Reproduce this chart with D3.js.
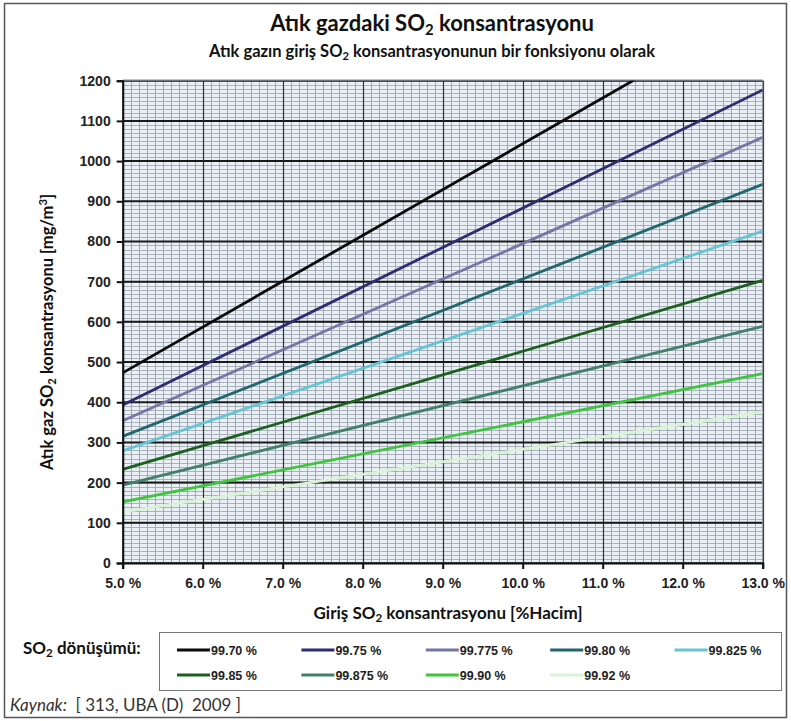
<!DOCTYPE html>
<html>
<head>
<meta charset="utf-8">
<script src="https://cdn.jsdelivr.net/npm/d3@7"></script>
<style>
  body { margin: 0; background: #fff; }
  svg { display: block; }
  .tick text { font-family: "Liberation Sans", Arial, sans-serif; font-weight: bold; font-size: 14px; fill: #222; }
</style>
</head>
<body>
<svg id="chart" width="791" height="721"></svg>
<script>
// x values (inlet SO2, % by volume) at which the lines were read
const xPoints = [5.0, 13.0];
const xTicks = [5, 6, 7, 8, 9, 10, 11, 12, 13];
const yTicks = [0, 100, 200, 300, 400, 500, 600, 700, 800, 900, 1000, 1100, 1200];

const seriesNames = ['99.70 %', '99.75 %', '99.775 %', '99.80 %', '99.825 %',
                     '99.85 %', '99.875 %', '99.90 %', '99.92 %'];
// outlet SO2 in mg/m3 at x = 5.0 and x = 13.0 (black one runs past 1200)
const seriesValues = [
    [473, 1385],
    [393, 1177],
    [354, 1059],
    [315, 942],
    [279, 826],
    [233, 703],
    [194, 589],
    [152, 471],
    [127, 376]
];
const seriesColors = ['#0a0a0a', '#2d2d72', '#7676a6', '#22666f', '#66c4d4',
                      '#1d5f1f', '#42806c', '#3fc43f', '#d8f3d2'];

const svg = d3.select('#chart');
const W = 791, H = 721;
const pL = 122.7, pR = 762.7, pT = 80.7, pB = 563;

const x = d3.scaleLinear().domain([5, 13]).range([pL, pR]);
const y = d3.scaleLinear().domain([0, 1200]).range([pB, pT]);

// outer frame
svg.append('rect')
    .attr('x', 4.5).attr('y', 3.5)
    .attr('width', W - 9).attr('height', H - 7)
    .attr('fill', 'none').attr('stroke', '#555').attr('stroke-width', 1.5);

// text with SO2 / m3 style pieces
const richText = (sel, parts, size) => {
    parts.forEach(p => {
        const t = sel.append('tspan').text(p.t);
        if (p.sub) t.attr('font-size', size * 0.68).attr('dy', size * 0.2);
        if (p.sup) t.attr('font-size', size * 0.68).attr('dy', -size * 0.38);
        if (p.back) t.attr('dy', p.back);
        if (p.italic) t.attr('font-style', 'italic');
    });
};

const addLabel = (px, py, size, anchor, parts, weight) => {
    const t = svg.append('text')
        .attr('x', px).attr('y', py)
        .attr('text-anchor', anchor)
        .attr('font-family', 'Lato, sans-serif')
        .attr('font-weight', weight || 'bold')
        .attr('font-size', size)
        .attr('fill', '#111');
    richText(t, parts, size);
    return t;
};

// titles
addLabel(432, 31, 22, 'middle',
    [{t: 'Atık gazdaki SO'}, {t: '2', sub: true}, {t: ' konsantrasyonu', back: -22 * 0.2}]);
addLabel(432, 57, 16.5, 'middle',
    [{t: 'Atık gazın giriş SO'}, {t: '2', sub: true},
     {t: ' konsantrasyonunun bir fonksiyonu olarak', back: -16.5 * 0.2}]);

// plot background
svg.append('rect')
    .attr('x', pL).attr('y', pT)
    .attr('width', pR - pL).attr('height', pB - pT)
    .attr('fill', '#eaf0f5');

const grid = svg.append('g');

// minor grid
grid.selectAll('line.hmin')
    .data(d3.range(0, 1201, 10))
    .enter().append('line')
    .attr('x1', pL).attr('x2', pR)
    .attr('y1', d => Math.round(y(d)) + 0.5).attr('y2', d => Math.round(y(d)) + 0.5)
    .attr('stroke', '#a9b1ba').attr('stroke-width', 1);

grid.selectAll('line.vmin')
    .data(d3.range(50, 131, 1).map(d => d / 10))
    .enter().append('line')
    .attr('y1', pT).attr('y2', pB)
    .attr('x1', d => Math.round(x(d)) + 0.5).attr('x2', d => Math.round(x(d)) + 0.5)
    .attr('stroke', '#9ea6af').attr('stroke-width', 1);

// major grid
grid.selectAll('line.vmaj')
    .data(xTicks)
    .enter().append('line')
    .attr('y1', pT).attr('y2', pB)
    .attr('x1', d => Math.round(x(d)) + 0.5).attr('x2', d => Math.round(x(d)) + 0.5)
    .attr('stroke', '#333').attr('stroke-width', 1.2);

grid.selectAll('line.hmaj')
    .data(yTicks)
    .enter().append('line')
    .attr('x1', pL).attr('x2', pR)
    .attr('y1', d => y(d)).attr('y2', d => y(d))
    .attr('stroke', '#1a1a1a').attr('stroke-width', 2);

// plot border
svg.append('rect')
    .attr('x', pL).attr('y', pT)
    .attr('width', pR - pL).attr('height', pB - pT)
    .attr('fill', 'none').attr('stroke', '#808890').attr('stroke-width', 1);

// series lines, clipped to plot area
svg.append('clipPath').attr('id', 'plotClip')
    .append('rect')
    .attr('x', pL).attr('y', pT)
    .attr('width', pR - pL).attr('height', pB - pT);

const line = d3.line()
    .x(d => x(d[0]))
    .y(d => y(d[1]));

svg.append('g')
    .attr('clip-path', 'url(#plotClip)')
    .selectAll('path')
    .data(seriesValues)
    .enter().append('path')
    .attr('d', vals => line(xPoints.map((xv, i) => [xv, vals[i]])))
    .attr('fill', 'none')
    .attr('stroke', (d, i) => seriesColors[i])
    .attr('stroke-width', 2.8);

// axes
const yAxis = svg.append('g')
    .attr('transform', `translate(${pL},0)`)
    .call(d3.axisLeft(y).tickValues(yTicks).tickSize(6).tickPadding(6)
        .tickFormat(d3.format('d')));
const xAxis = svg.append('g')
    .attr('transform', `translate(0,${pB})`)
    .call(d3.axisBottom(x).tickValues(xTicks).tickSize(6).tickPadding(6)
        .tickFormat(d => d3.format('.1f')(d) + ' %'));
[yAxis, xAxis].forEach(a => {
    a.select('.domain').attr('stroke', '#111').attr('stroke-width', 2);
    a.selectAll('.tick line').attr('stroke', '#111').attr('stroke-width', 2);
});
xAxis.selectAll('.tick text').attr('dy', '0.9em');

// axis titles
const yTitle = svg.append('text')
    .attr('transform', `translate(53,332) rotate(-90)`)
    .attr('text-anchor', 'middle')
    .attr('font-family', 'Lato, sans-serif')
    .attr('font-weight', 'bold')
    .attr('font-size', 16.5)
    .attr('fill', '#111');
richText(yTitle, [{t: 'Atık gaz SO'}, {t: '2', sub: true}, {t: ' konsantrasyonu [mg/m', back: -16.5 * 0.2},
    {t: '3', sup: true}, {t: ']', back: 16.5 * 0.38}], 16.5);

addLabel(448, 619, 17, 'middle',
    [{t: 'Giriş SO'}, {t: '2', sub: true}, {t: ' konsantrasyonu [%Hacim]', back: -17 * 0.2}]);

// legend
addLabel(23, 654, 17, 'start',
    [{t: 'SO'}, {t: '2', sub: true}, {t: ' dönüşümü:', back: -17 * 0.2}]);

const boxL = 159, boxR = 781, boxT = 632, boxB = 690;
svg.append('rect')
    .attr('x', boxL + 0.5).attr('y', boxT + 0.5)
    .attr('width', boxR - boxL).attr('height', boxB - boxT)
    .attr('fill', '#fff').attr('stroke', '#777').attr('stroke-width', 1);

const colW = (boxR - boxL) / 5;
const entries = svg.append('g').selectAll('g')
    .data(seriesNames)
    .enter().append('g')
    .attr('transform', (d, i) => `translate(${boxL + 18 + (i % 5) * colW},${i < 5 ? 650 : 675})`);

entries.append('line')
    .attr('x1', 0).attr('x2', 33)
    .attr('stroke', (d, i) => seriesColors[i])
    .attr('stroke-width', 3);

entries.append('text')
    .attr('x', 34).attr('y', 4.5)
    .attr('font-family', '"Liberation Sans", Arial, sans-serif')
    .attr('font-weight', 'bold')
    .attr('font-size', 12.5)
    .attr('fill', '#222')
    .text(d => d);

// source
const src = svg.append('text')
    .attr('x', 10).attr('y', 711)
    .attr('font-family', 'Lato, sans-serif')
    .attr('font-size', 17)
    .attr('fill', '#333')
    .attr('xml:space', 'preserve')
    .style('white-space', 'pre');
richText(src, [{t: 'Kaynak:', italic: true}, {t: '  [ 313, UBA (D)  2009 ]'}], 17);
</script>
</body>
</html>
